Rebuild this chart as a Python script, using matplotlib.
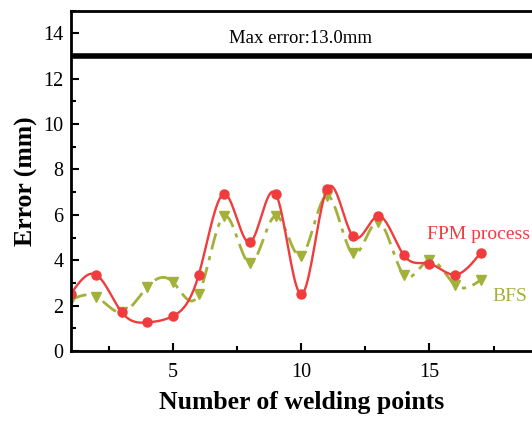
import numpy as np
import matplotlib.pyplot as plt
from matplotlib.ticker import MultipleLocator

# data
points = list(range(1, 18))
fpm = [2.5, 3.36, 1.70, 1.26, 1.54, 3.36, 6.92, 4.79, 6.93, 2.50, 7.13, 5.07, 5.95, 4.22, 3.85, 3.36, 4.33]
bfs = [2.25, 2.39, 1.70, 2.83, 3.03, 2.51, 5.95, 3.86, 5.95, 4.19, 6.85, 4.30, 5.70, 3.35, 4.01, 2.91, 3.13]
max_err = 13.0

red = "#f03c3c"
green = "#a3b13a"


def spline(x, y, n=20):
    # natural cubic spline through the points, for the smooth line
    x = np.asarray(x, float)
    y = np.asarray(y, float)
    k = len(x)
    h = np.diff(x)
    A = np.zeros((k, k))
    b = np.zeros(k)
    A[0, 0] = A[-1, -1] = 1
    for i in range(1, k - 1):
        A[i, i - 1] = h[i - 1]
        A[i, i] = 2 * (h[i - 1] + h[i])
        A[i, i + 1] = h[i]
        b[i] = 3 * ((y[i + 1] - y[i]) / h[i] - (y[i] - y[i - 1]) / h[i - 1])
    c = np.linalg.solve(A, b)
    xs, ys = [], []
    for i in range(k - 1):
        t = np.linspace(0, h[i], n, endpoint=False)
        bb = (y[i + 1] - y[i]) / h[i] - h[i] * (2 * c[i] + c[i + 1]) / 3
        d = (c[i + 1] - c[i]) / (3 * h[i])
        xs.extend(x[i] + t)
        ys.extend(y[i] + bb * t + c[i] * t ** 2 + d * t ** 3)
    xs.append(x[-1])
    ys.append(y[-1])
    return np.array(xs), np.array(ys)


plt.rcParams['font.family'] = ['Liberation Serif']
fig = plt.figure(figsize=(5.32, 4.21), dpi=100)
ax = fig.add_axes([0.1327, 0.1663, 0.8673, 0.8086])

sx, sy = spline(points, bfs)
ax.plot(sx, sy, color=green, lw=2, ls=(0, (6, 2.5, 1.5, 2.5)))
ax.plot(points, bfs, 'v', color=green, ms=7, ls='none')

sx, sy = spline(points, fpm)
ax.plot(sx, sy, color=red, lw=1.7)
ax.plot(points, fpm, 'o', color=red, ms=6.5, ls='none')

ax.axhline(max_err, color='black', lw=4)
ax.text(9.95, 13.4, "Max error:13.0mm", ha='center', va='bottom', fontsize=13.5)

ax.text(16.9, 5.15, "FPM process", color=red, ha='center', va='center', fontsize=14)
ax.text(18.15, 2.4, "BFS", color=green, ha='center', va='center', fontsize=14)

ax.set_xlim(1, 19)
ax.set_ylim(0, 15)
ax.xaxis.set_major_locator(MultipleLocator(5))
ax.xaxis.set_minor_locator(MultipleLocator(2.5))
ax.yaxis.set_major_locator(MultipleLocator(2))
ax.yaxis.set_minor_locator(MultipleLocator(1))
ax.set_xticks([5, 10, 15])
ax.tick_params(which='both', direction='in', width=1.5, labelsize=14.5, top=False, right=False)
ax.tick_params(which='major', length=6)
ax.tick_params(axis='x', pad=9)
ax.tick_params(axis='y', pad=5)
ax.tick_params(which='minor', length=3.5)
ax.spines['right'].set_visible(False)
for s in ['left', 'bottom', 'top']:
    ax.spines[s].set_linewidth(2)

ax.set_xlabel("Number of welding points", fontsize=18.5, fontweight='bold', labelpad=6)
ax.set_ylabel("Error (mm)", fontsize=18.5, fontweight='bold', labelpad=4)

fig.savefig("out.png", dpi=100)
